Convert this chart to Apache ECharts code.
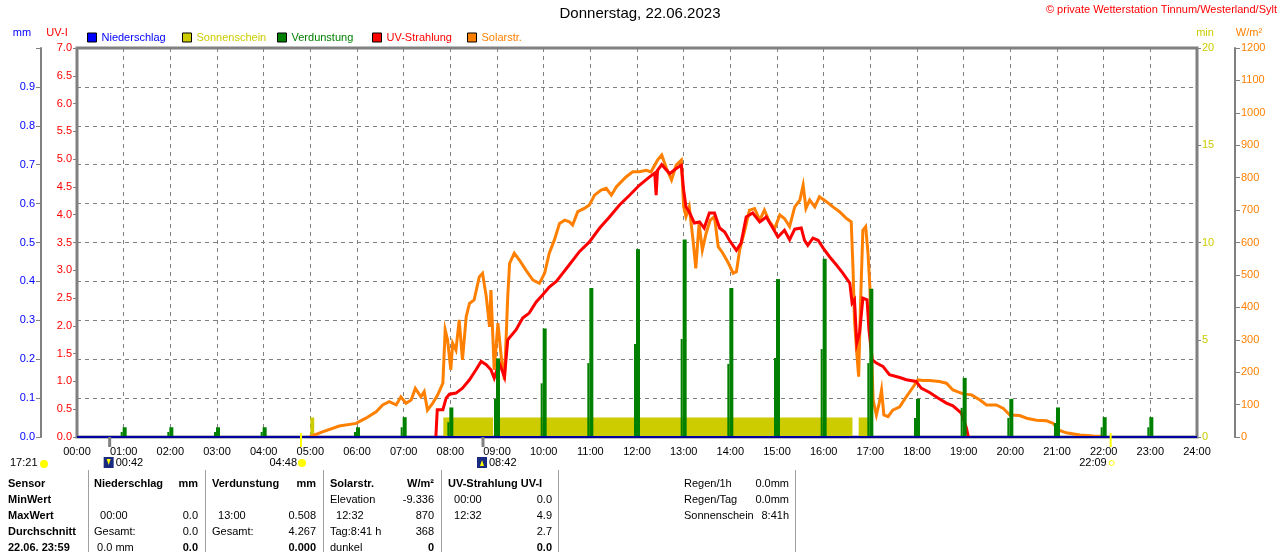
<!DOCTYPE html>
<html>
<head>
<meta charset="utf-8">
<script src="https://cdn.jsdelivr.net/npm/echarts@6/dist/echarts.min.js"></script>
<style>
  html, body { margin: 0; padding: 0; background: #fff; }
  #chart { width: 1280px; height: 552px; }
</style>
</head>
<body>
<div id="chart"></div>
<script>
(function () {
  'use strict';

  const FONT = '"Liberation Sans", Arial, sans-serif';

  // Niederschlag (mm per hour)
  const rainHour = [0, 1, 2, 3, 4, 5, 6, 7, 8, 9, 10, 11, 12, 13, 14, 15, 16, 17, 18, 19, 20, 21, 22, 23, 24];
  const rainValue = [0, 0, 0, 0, 0, 0, 0, 0, 0, 0, 0, 0, 0, 0, 0, 0, 0, 0, 0, 0, 0, 0, 0, 0, 0];

  // Sonnenschein (minutes), periods of sunshine
  const sunStart = ['05:00', '07:51', '08:58', '16:45'];
  const sunEnd = ['05:05', '08:55', '16:37', '16:59'];
  const sunMinutes = [1, 1, 1, 1];

  // Verdunstung (mm) per hour
  const evapHour = [1, 2, 3, 4, 6, 7, 8, 9, 10, 11, 12, 13, 14, 15, 16, 17, 18, 19, 20, 21, 22, 23];
  const evapValue = [0.025, 0.025, 0.025, 0.025, 0.025, 0.051, 0.076, 0.202, 0.279, 0.383, 0.483, 0.508,
    0.383, 0.406, 0.458, 0.381, 0.098, 0.152, 0.098, 0.076, 0.051, 0.051];
  const evapPart = [0.013, 0.013, 0.013, 0.013, 0.013, 0.025, 0.038, 0.098, 0.138, 0.19, 0.239, 0.252,
    0.188, 0.203, 0.226, 0.19, 0.049, 0.075, 0.049, 0.036, 0.025, 0.025];

  // UV-Strahlung (UV-I)
  const uvTime = [7.69, 7.72, 7.84, 7.91, 7.98, 8.12, 8.26, 8.41, 8.55, 8.66, 8.77, 8.87, 8.94, 9.05, 9.16,
    9.23, 9.41, 9.55, 9.69, 9.84, 9.98, 10.12, 10.27, 10.41, 10.55, 10.77, 10.98, 11.2, 11.41, 11.62, 11.84,
    12.05, 12.27, 12.38, 12.41, 12.44, 12.53, 12.7, 12.84, 12.95, 13.0, 13.05, 13.12, 13.23, 13.34, 13.44,
    13.55, 13.66, 13.77, 13.88, 13.98, 14.13, 14.23, 14.34, 14.48, 14.63, 14.77, 14.91, 15.02, 15.16, 15.27,
    15.38, 15.52, 15.59, 15.66, 15.77, 15.88, 15.99, 16.13, 16.27, 16.41, 16.56, 16.61, 16.66, 16.71, 16.77,
    16.84, 16.93, 16.97, 17.04, 17.13, 17.27, 17.41, 17.63, 17.77, 17.98, 18.09, 18.27, 18.45, 18.63, 18.77,
    18.95, 19.06, 19.1];
  const uvValue = [0, 0.49, 0.49, 0.7, 0.77, 0.79, 0.88, 1.03, 1.21, 1.36, 1.3, 1.21, 1.06, 1.33, 1.08,
    1.75, 1.93, 2.14, 2.23, 2.43, 2.56, 2.7, 2.8, 2.95, 3.1, 3.34, 3.51, 3.76, 3.96, 4.17, 4.35,
    4.53, 4.68, 4.75, 4.35, 4.8, 4.9, 4.74, 4.83, 4.89, 4.44, 4.14, 4.05, 3.85, 3.87, 3.76,
    4.03, 4.03, 3.76, 3.69, 3.54, 3.36, 3.49, 3.96, 4.03, 3.87, 3.96, 3.76, 3.6, 3.72, 3.55,
    3.74, 3.76, 3.54, 3.45, 3.58, 3.54, 3.4, 3.24, 3.1, 2.95, 2.77, 2.41, 2.47, 1.69, 1.87,
    2.5, 2.47, 1.93, 1.39, 1.33, 1.27, 1.12, 1.07, 1.03, 1.0, 0.88, 0.8, 0.7, 0.61, 0.56,
    0.43, 0.16, 0];

  // Solarstrahlung (W/m²)
  const solarTime = [4.98, 5.26, 5.62, 5.98, 6.19, 6.41, 6.55, 6.69, 6.84, 6.94, 7.05, 7.16, 7.25, 7.37, 7.44,
    7.51, 7.62, 7.73, 7.84, 7.89, 7.94, 8.01, 8.05, 8.12, 8.19, 8.26, 8.34, 8.41, 8.51, 8.62, 8.69, 8.77,
    8.84, 8.87, 8.94, 9.02, 9.09, 9.16, 9.23, 9.27, 9.37, 9.48, 9.62, 9.77, 9.91, 10.02, 10.12, 10.23,
    10.34, 10.45, 10.55, 10.62, 10.73, 10.87, 10.98, 11.09, 11.23, 11.34, 11.45, 11.56, 11.66, 11.77,
    11.91, 12.05, 12.2, 12.3, 12.44, 12.53, 12.63, 12.74, 12.84, 12.95, 13.0, 13.05, 13.12, 13.2, 13.26,
    13.33, 13.4, 13.48, 13.57, 13.66, 13.74, 13.84, 13.96, 14.06, 14.13, 14.2, 14.31, 14.41, 14.52,
    14.63, 14.73, 14.84, 14.95, 15.06, 15.16, 15.27, 15.38, 15.49, 15.56, 15.62, 15.7, 15.81, 15.91,
    16.06, 16.2, 16.34, 16.49, 16.59, 16.63, 16.66, 16.71, 16.75, 16.79, 16.84, 16.9, 16.95, 16.99,
    17.02, 17.06, 17.13, 17.19, 17.24, 17.29, 17.38, 17.48, 17.63, 17.77, 17.92, 18.02, 18.13, 18.27,
    18.48, 18.63, 18.77, 18.99, 19.17, 19.35, 19.49, 19.7, 19.85, 19.99, 20.2, 20.35, 20.56, 20.78,
    20.92, 21.03, 21.2, 21.49, 21.78, 22.0, 22.05];
  const solarValue = [0, 16, 34, 42, 58, 78, 99, 109, 99, 124, 104, 114, 150, 124, 140,
    83, 104, 130, 166, 330, 300, 207, 289, 268, 361, 238, 371, 412, 423, 494, 505, 433,
    340, 453, 207, 351, 248, 176, 433, 536, 567, 546, 515, 484, 474, 505, 567, 608,
    659, 669, 664, 654, 695, 705, 716, 746, 762, 767, 746, 772, 787, 803,
    818, 818, 823, 818, 854, 870, 829, 793, 839, 854, 710, 680, 710, 608, 520,
    659, 577, 628, 669, 680, 587, 567, 536, 505, 510, 577, 638, 700, 705,
    669, 700, 664, 643, 685, 674, 649, 710, 731, 777, 705, 731, 710, 741,
    726, 710, 695, 674, 664, 515, 361, 259, 186, 412, 638, 649, 567, 464,
    289, 114, 68, 104, 145, 68, 63, 83, 93, 124, 155, 176, 174, 174,
    171, 166, 145, 133, 130, 114, 99, 99, 88, 68, 66, 58, 52, 50,
    42, 22, 13, 6, 3, 2, 0];

  const legendNames = ['Niederschlag', 'Sonnenschein', 'Verdunstung', 'UV-Strahlung', 'Solarstr.'];
  const legendColors = ['#0000ff', '#cccc00', '#008000', '#ff0000', '#ff8000'];

  // Sun / moon events below the time axis
  const eventTimes = ['00:42', '04:48', '08:42', '22:09'];
  const eventKinds = ['moonrise', 'sunrise', 'moonset', 'sunset'];
  const prevMoonLabel = '17:21';

  // Table below the chart
  const tableRowLabels = ['Sensor', 'MinWert', 'MaxWert', 'Durchschnitt', '22.06. 23:59'];
  const tableColumns = [
    { head: 'Niederschlag', unit: 'mm', left: ['', '  00:00', 'Gesamt:', ' 0.0 mm'], right: ['', '0.0', '0.0', '0.0'] },
    { head: 'Verdunstung', unit: 'mm', left: ['', '  13:00', 'Gesamt:', ''], right: ['', '0.508', '4.267', '0.000'] },
    { head: 'Solarstr.', unit: 'W/m²', left: ['Elevation', '  12:32', 'Tag:8:41 h', 'dunkel'], right: ['-9.336', '870', '368', '0'] },
    { head: 'UV-Strahlung UV-I', unit: '', left: ['  00:00', '  12:32', '', ''], right: ['0.0', '4.9', '2.7', '0.0'] }
  ];
  const summaryLabels = ['Regen/1h', 'Regen/Tag', 'Sonnenschein'];
  const summaryValues = ['0.0mm', '0.0mm', '8:41h'];

  function toHours(hhmm) {
    const [h, m] = hhmm.split(':').map(Number);
    return h + m / 60;
  }

  function pad(n) { return (n < 10 ? '0' : '') + n; }

  const sunData = [];
  sunStart.forEach((s, i) => {
    const a = toHours(s);
    const b = toHours(sunEnd[i]);
    sunData.push([a, 0], [a, sunMinutes[i]], [b, sunMinutes[i]], [b, 0]);
  });

  const chart = echarts.init(document.getElementById('chart'), null, { renderer: 'canvas' });

  const gridDash = { color: '#808080', width: 1, type: [4, 4] };
  const labelBase = { fontFamily: FONT, fontSize: 11 };

  chart.setOption({
    animation: false,
    backgroundColor: '#fff',
    textStyle: { fontFamily: FONT },
    title: [
      { text: 'Donnerstag, 22.06.2023', left: 'center', top: 6, padding: 0,
        textStyle: { fontFamily: FONT, fontSize: 15, fontWeight: 'normal', color: '#000' } },
      { text: '© private Wetterstation Tinnum/Westerland/Sylt', right: 3, top: 4, padding: 0,
        textStyle: { fontFamily: FONT, fontSize: 11, fontWeight: 'normal', color: '#ff0000' } }
    ],
    legend: legendNames.map((name, i) => ({
      left: 87 + 95 * i,
      top: 32,
      padding: 0,
      selectedMode: false,
      icon: 'rect',
      itemWidth: 9,
      itemHeight: 9,
      itemStyle: { borderColor: '#000', borderWidth: 1 },
      textStyle: { fontFamily: FONT, fontSize: 11, color: legendColors[i], padding: [0, 0, 0, 0] },
      data: [name]
    })),
    grid: { left: 77, right: 83, top: 48, bottom: 115, show: true, borderColor: '#808080', borderWidth: 3, backgroundColor: 'transparent' },
    xAxis: {
      type: 'value', min: 0, max: 24, interval: 1,
      axisLine: { show: false },
      axisTick: { show: false },
      splitLine: { show: true, lineStyle: gridDash },
      axisLabel: Object.assign({ color: '#000', margin: 9, formatter: (v) => pad(v) + ':00' }, labelBase)
    },
    yAxis: [
      {
        type: 'value', min: 0, max: 1, interval: 0.1, position: 'left', offset: 36,
        axisLine: { show: true, onZero: false, lineStyle: { color: '#808080', width: 2 } },
        axisTick: { show: true, length: 5, lineStyle: { color: '#808080' } },
        splitLine: { show: true, lineStyle: gridDash },
        axisLabel: Object.assign({ color: '#0000ff', margin: 6,
          formatter: (v) => (v >= 0.999 ? '' : v.toFixed(1)) }, labelBase)
      },
      {
        type: 'value', min: 0, max: 7, interval: 0.5, position: 'left', offset: 0,
        axisLine: { show: false, onZero: false },
        axisTick: { show: true, length: 4, lineStyle: { color: '#808080' } },
        splitLine: { show: false },
        axisLabel: Object.assign({ color: '#ff0000', margin: 5, formatter: (v) => v.toFixed(1) }, labelBase)
      },
      {
        type: 'value', min: 0, max: 20, interval: 5, position: 'right', offset: 0,
        axisLine: { show: false, onZero: false },
        axisTick: { show: true, length: 4, lineStyle: { color: '#808080' } },
        splitLine: { show: false },
        axisLabel: Object.assign({ color: '#cccc00', margin: 5, formatter: (v) => String(v) }, labelBase)
      },
      {
        type: 'value', min: 0, max: 1200, interval: 100, position: 'right', offset: 38,
        axisLine: { show: true, onZero: false, lineStyle: { color: '#808080', width: 2 } },
        axisTick: { show: true, length: 5, lineStyle: { color: '#808080' } },
        splitLine: { show: false },
        axisLabel: Object.assign({ color: '#ff8000', margin: 6, formatter: (v) => String(v) }, labelBase)
      }
    ],
    series: [
      {
        name: 'Sonnenschein', type: 'line', yAxisIndex: 2, data: sunData,
        showSymbol: false, symbol: 'none', z: 1,
        lineStyle: { width: 0, color: '#cccc00' },
        itemStyle: { color: '#cccc00' },
        areaStyle: { color: '#cccc00', opacity: 1 }
      },
      {
        name: 'Solarstr.', type: 'line', yAxisIndex: 3,
        data: solarTime.map((t, i) => [t, solarValue[i]]),
        showSymbol: false, symbol: 'none', z: 2,
        lineStyle: { width: 3, color: '#ff8000', join: 'miter' },
        itemStyle: { color: '#ff8000' }
      },
      {
        name: 'UV-Strahlung', type: 'line', yAxisIndex: 1,
        data: uvTime.map((t, i) => [t, uvValue[i]]),
        showSymbol: false, symbol: 'none', z: 3,
        lineStyle: { width: 3, color: '#ff0000', join: 'miter' },
        itemStyle: { color: '#ff0000' }
      },
      {
        name: 'Verdunstung', type: 'bar', yAxisIndex: 0, z: 4,
        data: evapHour.map((h, i) => [h, evapPart[i]]),
        barWidth: 2, barGap: '0%',
        itemStyle: { color: '#008000' }
      },
      {
        name: 'Verdunstung', type: 'bar', yAxisIndex: 0, z: 4,
        data: evapHour.map((h, i) => [h, evapValue[i]]),
        barWidth: 4, barGap: '0%',
        itemStyle: { color: '#008000' }
      },
      {
        name: 'Niederschlag', type: 'line', yAxisIndex: 0,
        data: rainHour.map((h, i) => [h, rainValue[i]]),
        showSymbol: false, symbol: 'none', z: 6,
        lineStyle: { width: 2, color: '#0000a0' },
        itemStyle: { color: '#0000ff' }
      }
    ]
  });

  function text(str, x, y, opts) {
    opts = opts || {};
    return {
      type: 'text', x, y, silent: true, z: 100,
      style: {
        text: str,
        fill: opts.color || '#000',
        font: (opts.bold ? 'bold ' : '') + '11px ' + FONT,
        align: opts.align || 'left',
        verticalAlign: 'middle',
        textAlign: opts.align || 'left',
        textVerticalAlign: 'middle'
      }
    };
  }

  function buildGraphics() {
    const g = [];
    const base = chart.convertToPixel({ yAxisIndex: 0 }, 0);
    const iconY = 463;

    // axis unit captions
    g.push(text('mm', 22, 33, { color: '#0000ff', align: 'center' }));
    g.push(text('UV-I', 57, 33, { color: '#ff0000', align: 'center' }));
    g.push(text('min', 1205, 33, { color: '#cccc00', align: 'center' }));
    g.push(text('W/m²', 1249, 33, { color: '#ff8000', align: 'center' }));

    // previous day moon event
    g.push(text(prevMoonLabel, 10, iconY));
    g.push({ type: 'circle', shape: { cx: 44, cy: iconY + 1, r: 4 }, style: { fill: '#ffff00' }, z: 100 });

    eventTimes.forEach((t, i) => {
      const x = chart.convertToPixel({ xAxisIndex: 0 }, toHours(t));
      const kind = eventKinds[i];
      if (kind.indexOf('moon') === 0) {
        g.push({ type: 'rect', shape: { x: x - 1.5, y: base, width: 3, height: 10 }, style: { fill: '#808080' }, z: 100 });
        g.push({ type: 'rect', shape: { x: x - 6, y: iconY - 6, width: 10, height: 11 }, style: { fill: '#1a2a80' }, z: 100 });
        g.push({ type: 'polygon', shape: { points: kind === 'moonrise'
          ? [[x - 3, iconY - 4], [x + 1, iconY - 4], [x - 1, iconY + 2]]
          : [[x - 3, iconY + 3], [x + 1, iconY + 3], [x - 1, iconY - 3]] }, style: { fill: '#ffff00' }, z: 101 });
        g.push(text(t, x + 6, iconY));
      } else {
        g.push({ type: 'rect', shape: { x: x - 1, y: base - 4, width: 2, height: 14 }, style: { fill: '#ffff00' }, z: 100 });
        g.push(text(t, x - 4, iconY, { align: 'right' }));
        if (kind === 'sunrise') {
          g.push({ type: 'circle', shape: { cx: x + 1, cy: iconY, r: 4 }, style: { fill: '#ffff00' }, z: 100 });
        } else {
          g.push({ type: 'circle', shape: { cx: x + 1, cy: iconY, r: 2.5 }, style: { fill: 'none', stroke: '#ffff00', lineWidth: 1 }, z: 100 });
        }
      }
    });

    // table
    const rowY = [484, 500, 516, 532, 548];
    const colLeft = [94, 212, 330, 448];
    const colRight = [198, 316, 434, 552];
    [88, 205, 323, 441, 558, 795].forEach((x) => {
      g.push({ type: 'line', shape: { x1: x + 0.5, y1: 470, x2: x + 0.5, y2: 552 }, style: { stroke: '#a0a0a0', lineWidth: 1 }, z: 100 });
    });
    tableRowLabels.forEach((lab, r) => g.push(text(lab, 8, rowY[r], { bold: true })));
    tableColumns.forEach((col, c) => {
      g.push(text(col.head, colLeft[c], rowY[0], { bold: true }));
      if (col.unit) g.push(text(col.unit, colRight[c], rowY[0], { bold: true, align: 'right' }));
      col.left.forEach((s, r) => { if (s) g.push(text(s, colLeft[c], rowY[r + 1])); });
      col.right.forEach((s, r) => { if (s) g.push(text(s, colRight[c], rowY[r + 1], { align: 'right', bold: r === 3 })); });
    });
    summaryLabels.forEach((s, r) => {
      g.push(text(s, 684, rowY[r]));
      g.push(text(summaryValues[r], 789, rowY[r], { align: 'right' }));
    });
    return g;
  }

  chart.setOption({ graphic: buildGraphics() });
  window.addEventListener('resize', () => chart.resize());
})();
</script>
</body>
</html>
